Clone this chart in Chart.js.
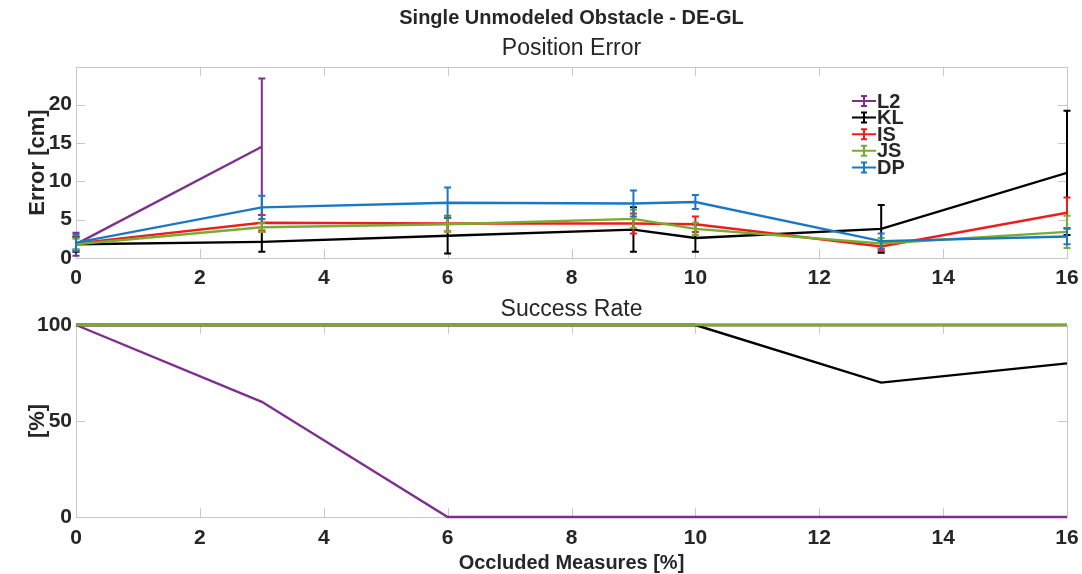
<!DOCTYPE html>
<html>
<head>
<meta charset="utf-8">
<script src="https://cdn.jsdelivr.net/npm/chart.js@4.4.1/dist/chart.umd.min.js"></script>
<style>
  html, body { margin: 0; padding: 0; background: #fff; }
  #contenedor { position: relative; width: 1082px; height: 574px; }
  canvas { position: absolute; left: 0; }
  #graficoError { top: 0; }
  #graficoExito { top: 290px; }
</style>
</head>
<body>
<div id="contenedor">
  <canvas id="graficoError" width="1082" height="290"></canvas>
  <canvas id="graficoExito" width="1082" height="284"></canvas>
</div>
<script>
// occluded measures [%]
const occluded = [0, 3, 6, 9, 10, 13, 16];
const methods = ['L2', 'KL', 'IS', 'JS', 'DP'];
const colors = ['#7E2F8E', '#000000', '#EE1C1C', '#77AC30', '#1A78C2'];

// mean position error [cm]
const errorL2 = [1.8, 14.5, null, null, null, null, null];
const errorKL = [1.8, 2.1, 2.9, 3.7, 2.6, 3.8, 11.1];
const errorIS = [1.9, 4.6, 4.5, 4.5, 4.4, 1.5, 5.9];
const errorJS = [1.8, 4.0, 4.4, 5.1, 3.8, 1.9, 3.4];
const errorDP = [2.0, 6.6, 7.2, 7.1, 7.3, 2.2, 2.8];

// error bar half length [cm]
const spreadL2 = [1.5, 8.9, null, null, null, null, null];
const spreadKL = [1.0, 1.3, 2.3, 2.9, 1.8, 3.1, 8.1];
const spreadIS = [0.8, 1.0, 1.0, 1.3, 1.0, 0.6, 2.0];
const spreadJS = [0.7, 0.6, 1.0, 1.2, 0.8, 0.7, 2.1];
const spreadDP = [1.1, 1.5, 2.0, 1.7, 0.9, 1.0, 1.0];

// success rate [%]
const successL2 = [100, 60, 0, 0, 0, 0, 0];
const successKL = [100, 100, 100, 100, 100, 70, 80];
const successIS = [100, 100, 100, 100, 100, 100, 100];
const successJS = [100, 100, 100, 100, 100, 100, 100];
const successDP = [100, 100, 100, 100, 100, 100, 100];

const xTicks = [0, 2, 4, 6, 8, 10, 12, 14, 16];

const fuente = "'Liberation Sans', Arial, Helvetica, sans-serif";
const colorTexto = '#262626';

function puntos(valores) {
    return occluded.map((x, i) => ({ x: x, y: valores[i] }));
}

// caja gris con marcas hacia adentro
const marcoEjes = {
    id: 'marcoEjes',
    beforeDatasetsDraw(chart) {
        const { ctx, chartArea: a, scales } = chart;
        ctx.save();
        ctx.strokeStyle = '#c8c8c8';
        ctx.lineWidth = 1;
        ctx.beginPath();
        for (const t of scales.x.ticks) {
            const px = Math.round(scales.x.getPixelForValue(t.value)) + 0.5;
            ctx.moveTo(px, a.bottom); ctx.lineTo(px, a.bottom - 9);
            ctx.moveTo(px, a.top); ctx.lineTo(px, a.top + 9);
        }
        for (const t of scales.y.ticks) {
            const py = Math.round(scales.y.getPixelForValue(t.value)) + 0.5;
            ctx.moveTo(a.left, py); ctx.lineTo(a.left + 9, py);
            ctx.moveTo(a.right, py); ctx.lineTo(a.right - 9, py);
        }
        ctx.stroke();
        ctx.strokeRect(Math.round(a.left) + 0.5, Math.round(a.top) + 0.5, Math.round(a.width), Math.round(a.height));
        ctx.restore();
    }
};

// barras de error de cada serie
const barrasError = {
    id: 'barrasError',
    afterDatasetDraw(chart, args) {
        const ds = chart.data.datasets[args.index];
        if (!ds.spread) return;
        const { ctx } = chart;
        const ys = chart.scales.y;
        ctx.save();
        ctx.strokeStyle = ds.borderColor;
        ctx.lineWidth = 2;
        args.meta.data.forEach((pt, i) => {
            const v = ds.data[i].y;
            const e = ds.spread[i];
            if (v == null || e == null) return;
            const arriba = ys.getPixelForValue(v + e);
            const abajo = ys.getPixelForValue(v - e);
            ctx.beginPath();
            ctx.moveTo(pt.x, arriba); ctx.lineTo(pt.x, abajo);
            ctx.moveTo(pt.x - 3.5, arriba); ctx.lineTo(pt.x + 3.5, arriba);
            ctx.moveTo(pt.x - 3.5, abajo); ctx.lineTo(pt.x + 3.5, abajo);
            ctx.stroke();
        });
        ctx.restore();
    }
};

// leyenda dentro del area del grafico de arriba
const leyenda = {
    id: 'leyenda',
    afterDraw(chart) {
        const { ctx } = chart;
        ctx.save();
        ctx.font = 'bold 20px ' + fuente;
        ctx.textBaseline = 'middle';
        chart.data.datasets.forEach((ds, i) => {
            const y = 101 + i * 16.6;
            ctx.strokeStyle = ds.borderColor;
            ctx.lineWidth = 2;
            ctx.beginPath();
            ctx.moveTo(852, y); ctx.lineTo(876, y);
            ctx.moveTo(864, y - 5); ctx.lineTo(864, y + 5);
            ctx.moveTo(861, y - 5); ctx.lineTo(867, y - 5);
            ctx.moveTo(861, y + 5); ctx.lineTo(867, y + 5);
            ctx.stroke();
            ctx.fillStyle = colorTexto;
            ctx.fillText(ds.label, 877, y + 1);
        });
        ctx.restore();
    }
};

function ejeX(alto, padding, titulo) {
    const eje = {
        type: 'linear',
        min: 0,
        max: 16,
        afterBuildTicks: s => { s.ticks = xTicks.map(v => ({ value: v })); },
        afterFit: s => { s.height = alto; s.paddingLeft = 0; s.paddingRight = 0; },
        grid: { display: false, drawTicks: false, tickLength: 0 },
        border: { display: false },
        ticks: { padding: padding, maxRotation: 0, color: colorTexto, font: { family: fuente, size: 21, weight: 'bold' } }
    };
    if (titulo) {
        eje.title = { display: true, text: titulo, color: colorTexto, padding: { top: 0, bottom: 1 },
                      font: { family: fuente, size: 20, weight: 'bold', lineHeight: 1.0 } };
    }
    return eje;
}

function ejeY(min, max, paso, titulo) {
    return {
        min: min,
        max: max,
        afterBuildTicks: s => {
            const t = [];
            for (let v = min; v <= max + 1e-9; v += paso) t.push({ value: v });
            s.ticks = t;
        },
        afterFit: s => { s.width = 76; s.paddingTop = 0; s.paddingBottom = 0; },
        grid: { display: false, drawTicks: false, tickLength: 0 },
        border: { display: false },
        ticks: { padding: 4, color: colorTexto, font: { family: fuente, size: 21, weight: 'bold' } },
        title: { display: true, text: titulo, color: colorTexto, padding: { top: 25, bottom: 0 },
                 font: { family: fuente, size: 22, weight: 'bold' } }
    };
}

document.addEventListener('DOMContentLoaded', function () {
    //GRAFICO ERROR DE POSICION
    const errores = [errorL2, errorKL, errorIS, errorJS, errorDP];
    const spreads = [spreadL2, spreadKL, spreadIS, spreadJS, spreadDP];
    new Chart(document.getElementById('graficoError'), {
        type: 'line',
        data: {
            datasets: methods.map((m, i) => ({
                label: m,
                data: puntos(errores[i]),
                spread: spreads[i],
                borderColor: colors[i],
                backgroundColor: colors[i],
                borderWidth: 2.4,
                pointRadius: 0,
                tension: 0,
                order: methods.length - i
            }))
        },
        options: {
            responsive: false,
            animation: false,
            layout: { padding: { left: 0, right: 15, top: 0, bottom: 0 } },
            scales: {
                x: ejeX(32, 8, null),
                y: ejeY(0, 24.9, 5, 'Error [cm]')
            },
            plugins: {
                legend: { display: false },
                tooltip: { enabled: false },
                title: { display: true, fullSize: false, text: 'Single Unmodeled Obstacle - DE-GL', color: colorTexto,
                         padding: { top: 6, bottom: 0 }, font: { family: fuente, size: 20, weight: 'bold' } },
                subtitle: { display: true, fullSize: false, text: 'Position Error', color: colorTexto,
                            padding: { top: 4.6, bottom: 4.8 }, font: { family: fuente, size: 23, weight: 'normal' } }
            }
        },
        plugins: [marcoEjes, barrasError, leyenda]
    });

    //GRAFICO TASA DE EXITO
    const exitos = [successL2, successKL, successIS, successJS, successDP];
    const ordenExito = [1, 2, 3, 0, 4];
    new Chart(document.getElementById('graficoExito'), {
        type: 'line',
        data: {
            datasets: methods.map((m, i) => ({
                label: m,
                data: puntos(exitos[i]),
                borderColor: colors[i],
                backgroundColor: colors[i],
                borderWidth: 2.4,
                pointRadius: 0,
                tension: 0,
                clip: false,
                order: ordenExito[i]
            }))
        },
        options: {
            responsive: false,
            animation: false,
            layout: { padding: { left: 0, right: 15, top: 0, bottom: 0 } },
            scales: {
                x: ejeX(57, 9, 'Occluded Measures [%]'),
                y: ejeY(0, 100, 50, '[%]')
            },
            plugins: {
                legend: { display: false },
                tooltip: { enabled: false },
                title: { display: true, fullSize: false, text: 'Success Rate', color: colorTexto,
                         padding: { top: 6.2, bottom: 1.2 }, font: { family: fuente, size: 23, weight: 'normal' } }
            }
        },
        plugins: [marcoEjes]
    });
});
</script>
</body>
</html>
